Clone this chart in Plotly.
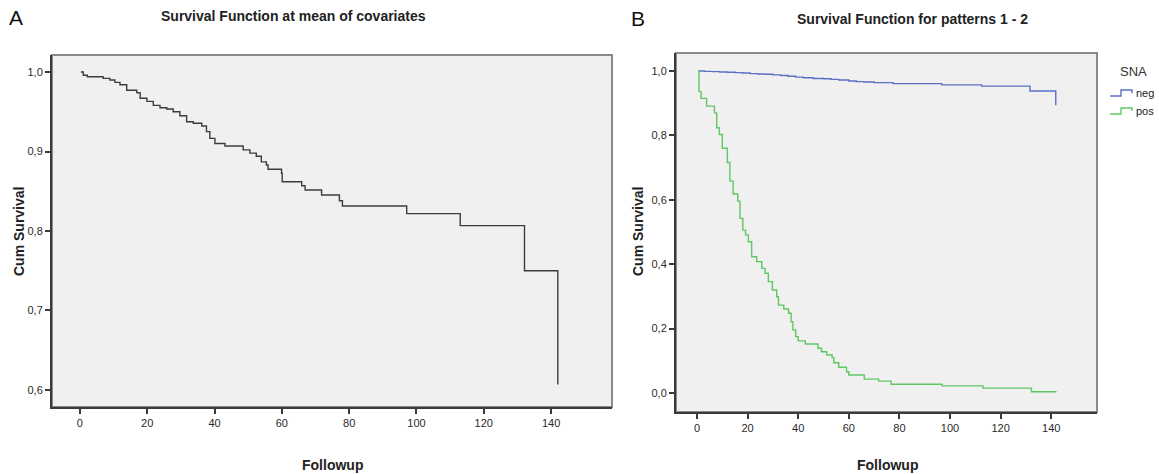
import plotly.graph_objects as go

# ---- Panel A: survival at mean of covariates ----
a_time = [0.3, 1.0, 2.2, 6.9, 8.9, 10.4, 11.9, 13.9, 16.9, 17.9, 19.9, 21.8, 23.8, 25.8,
          27.7, 29.7, 31.7, 33.7, 36.2, 37.6, 38.6, 40.1, 43.1, 48.5, 50.5, 52.4, 53.9,
          55.4, 55.9, 59.9, 60.1, 65.9, 66.9, 71.8, 77.1, 78.0, 97.1, 113.0, 132.1, 142.0, 142.0]
a_surv = [1.0, 0.996, 0.994, 0.992, 0.990, 0.987, 0.984, 0.977, 0.974, 0.967, 0.963, 0.958,
          0.955, 0.9535, 0.950, 0.945, 0.9375, 0.9355, 0.932, 0.925, 0.9165, 0.910, 0.907,
          0.902, 0.898, 0.894, 0.887, 0.883, 0.8776, 0.8726, 0.862, 0.857, 0.8516, 0.8453,
          0.838, 0.8314, 0.8218, 0.8067, 0.750, 0.750, 0.607]

# ---- Panel B: survival by SNA pattern ----
neg_time = [0.5, 3, 6, 9, 12, 15, 18, 21, 24, 27, 30, 33, 36, 39, 42, 46, 50, 53, 56, 60,
            63, 66, 70, 77.5, 96.7, 112.5, 131.6, 141.8, 141.8]
neg_surv = [1.0, 0.999, 0.998, 0.997, 0.996, 0.995, 0.994, 0.992, 0.991, 0.990, 0.988,
            0.986, 0.984, 0.981, 0.979, 0.977, 0.976, 0.974, 0.972, 0.969, 0.967, 0.966,
            0.964, 0.961, 0.957, 0.953, 0.938, 0.938, 0.894]

pos_time = [0.8, 0.8, 1.6, 3.8, 6.9, 7.8, 8.8, 10.0, 12.0, 13.0, 14.3, 16.1, 17.0, 18.1,
            19.2, 20.3, 21.6, 23.6, 25.6, 26.9, 28.2, 29.8, 31.5, 32.2, 34.3, 36.2, 37.2,
            37.9, 39.0, 40.0, 42.8, 47.8, 49.2, 51.3, 53.4, 54.1, 56.0, 59.1, 60.0, 66.1,
            71.8, 76.7, 96.9, 113.0, 132.2, 142.1]
pos_surv = [1.0, 0.936, 0.915, 0.891, 0.870, 0.824, 0.803, 0.760, 0.716, 0.658, 0.618,
            0.596, 0.5425, 0.506, 0.491, 0.470, 0.423, 0.408, 0.387, 0.372, 0.346, 0.320,
            0.299, 0.273, 0.261, 0.2475, 0.2215, 0.196, 0.175, 0.162, 0.152, 0.139, 0.128,
            0.118, 0.110, 0.094, 0.080, 0.066, 0.056, 0.043, 0.037, 0.027, 0.022, 0.015,
            0.004, 0.004]

x_ticks = [0, 20, 40, 60, 80, 100, 120, 140]
a_yticks = [0.6, 0.7, 0.8, 0.9, 1.0]
b_yticks = [0.0, 0.2, 0.4, 0.6, 0.8, 1.0]
legend_title = "SNA"
legend_names = ["neg", "pos"]

W, H = 1159, 474
FONT = "Liberation Sans, Arial, sans-serif"
NEG_C = "#5b6fc4"
POS_C = "#5ec865"
LINE_C = "#3c3c3c"

def px(x):
    return x / W

def py(y):
    return 1 - y / H

fig = go.Figure()
fig.add_trace(go.Scatter(x=a_time, y=a_surv, mode="lines", line=dict(shape="hv", color=LINE_C, width=1.4),
                         xaxis="x", yaxis="y", showlegend=False))
fig.add_trace(go.Scatter(x=neg_time, y=neg_surv, mode="lines", line=dict(shape="hv", color=NEG_C, width=1.4),
                         xaxis="x2", yaxis="y2", name=legend_names[0], showlegend=False))
fig.add_trace(go.Scatter(x=pos_time, y=pos_surv, mode="lines", line=dict(shape="hv", color=POS_C, width=1.4),
                         xaxis="x2", yaxis="y2", name=legend_names[1], showlegend=False))

axis_common = dict(showgrid=False, zeroline=False, showline=True, linecolor="#3a3a3a", linewidth=2,
                   ticks="outside", ticklen=5, tickwidth=1.5, tickcolor="#3a3a3a",
                   tickfont=dict(family=FONT, size=11, color="#2a2a2a"))

fig.update_layout(
    width=W, height=H,
    margin=dict(l=0, r=0, t=0, b=0),
    paper_bgcolor="white", plot_bgcolor="#f0f0f0",
    separators=",.",
    xaxis=dict(domain=[px(52), px(612)], range=[-8.3, 158.1], tickvals=x_ticks, anchor="y", **axis_common),
    yaxis=dict(domain=[py(407), py(55)], range=[0.5786, 1.0214], tickvals=a_yticks, tickformat=".1f",
               anchor="x", **axis_common),
    xaxis2=dict(domain=[px(676), px(1097)], range=[-8.3, 158.1], tickvals=x_ticks, anchor="y2", **axis_common),
    yaxis2=dict(domain=[py(412), py(53)], range=[-0.059, 1.056], tickvals=b_yticks, tickformat=".1f",
                anchor="x2", **axis_common),
    showlegend=False,
)

# frame (top/right lighter gray border)
for xr, yr in (("x domain", "y domain"), ("x2 domain", "y2 domain")):
    fig.add_shape(type="rect", xref=xr, yref=yr, x0=0, x1=1, y0=0, y1=1,
                  line=dict(color="#8a8a8a", width=2), layer="below")

def add_text(text, x, y, size, bold=False, angle=0, color="#222222"):
    fig.add_annotation(text=("<b>%s</b>" % text) if bold else text, x=px(x), y=py(y),
                       xref="paper", yref="paper", showarrow=False, textangle=angle,
                       font=dict(family=FONT, size=size, color=color), xanchor="center", yanchor="middle")

add_text("A", 16, 18, 21, color="#111111")
add_text("B", 638, 19, 21, color="#111111")
add_text("Survival Function at mean of covariates", 293, 16, 14, bold=True)
add_text("Survival Function for patterns 1 - 2", 912, 19, 14, bold=True)
add_text("Cum Survival", 19, 232, 14, bold=True, angle=-90)
add_text("Cum Survival", 638, 232, 14, bold=True, angle=-90)
add_text("Followup", 332, 465, 14, bold=True)
add_text("Followup", 887, 465, 14, bold=True)

# custom legend
add_text(legend_title, 1133, 71, 13, color="#333333")
for i, (name, col) in enumerate(zip(legend_names, [NEG_C, POS_C])):
    yy = 93 + 18 * i
    path = "M %f,%f L %f,%f L %f,%f L %f,%f L %f,%f" % (
        px(1110), py(yy + 3), px(1121), py(yy + 3), px(1121), py(yy - 3), px(1132), py(yy - 3), px(1132), py(yy))
    fig.add_shape(type="path", xref="paper", yref="paper", path=path, line=dict(color=col, width=1.4))
    fig.add_annotation(text=name, x=px(1134), y=py(yy), xref="paper", yref="paper", showarrow=False,
                       xanchor="left", yanchor="middle", font=dict(family=FONT, size=11, color="#222222"))

fig.write_html("out.html", config={"displayModeBar": False},
               post_script="document.body.style.margin='0';document.body.style.overflow='hidden';")
